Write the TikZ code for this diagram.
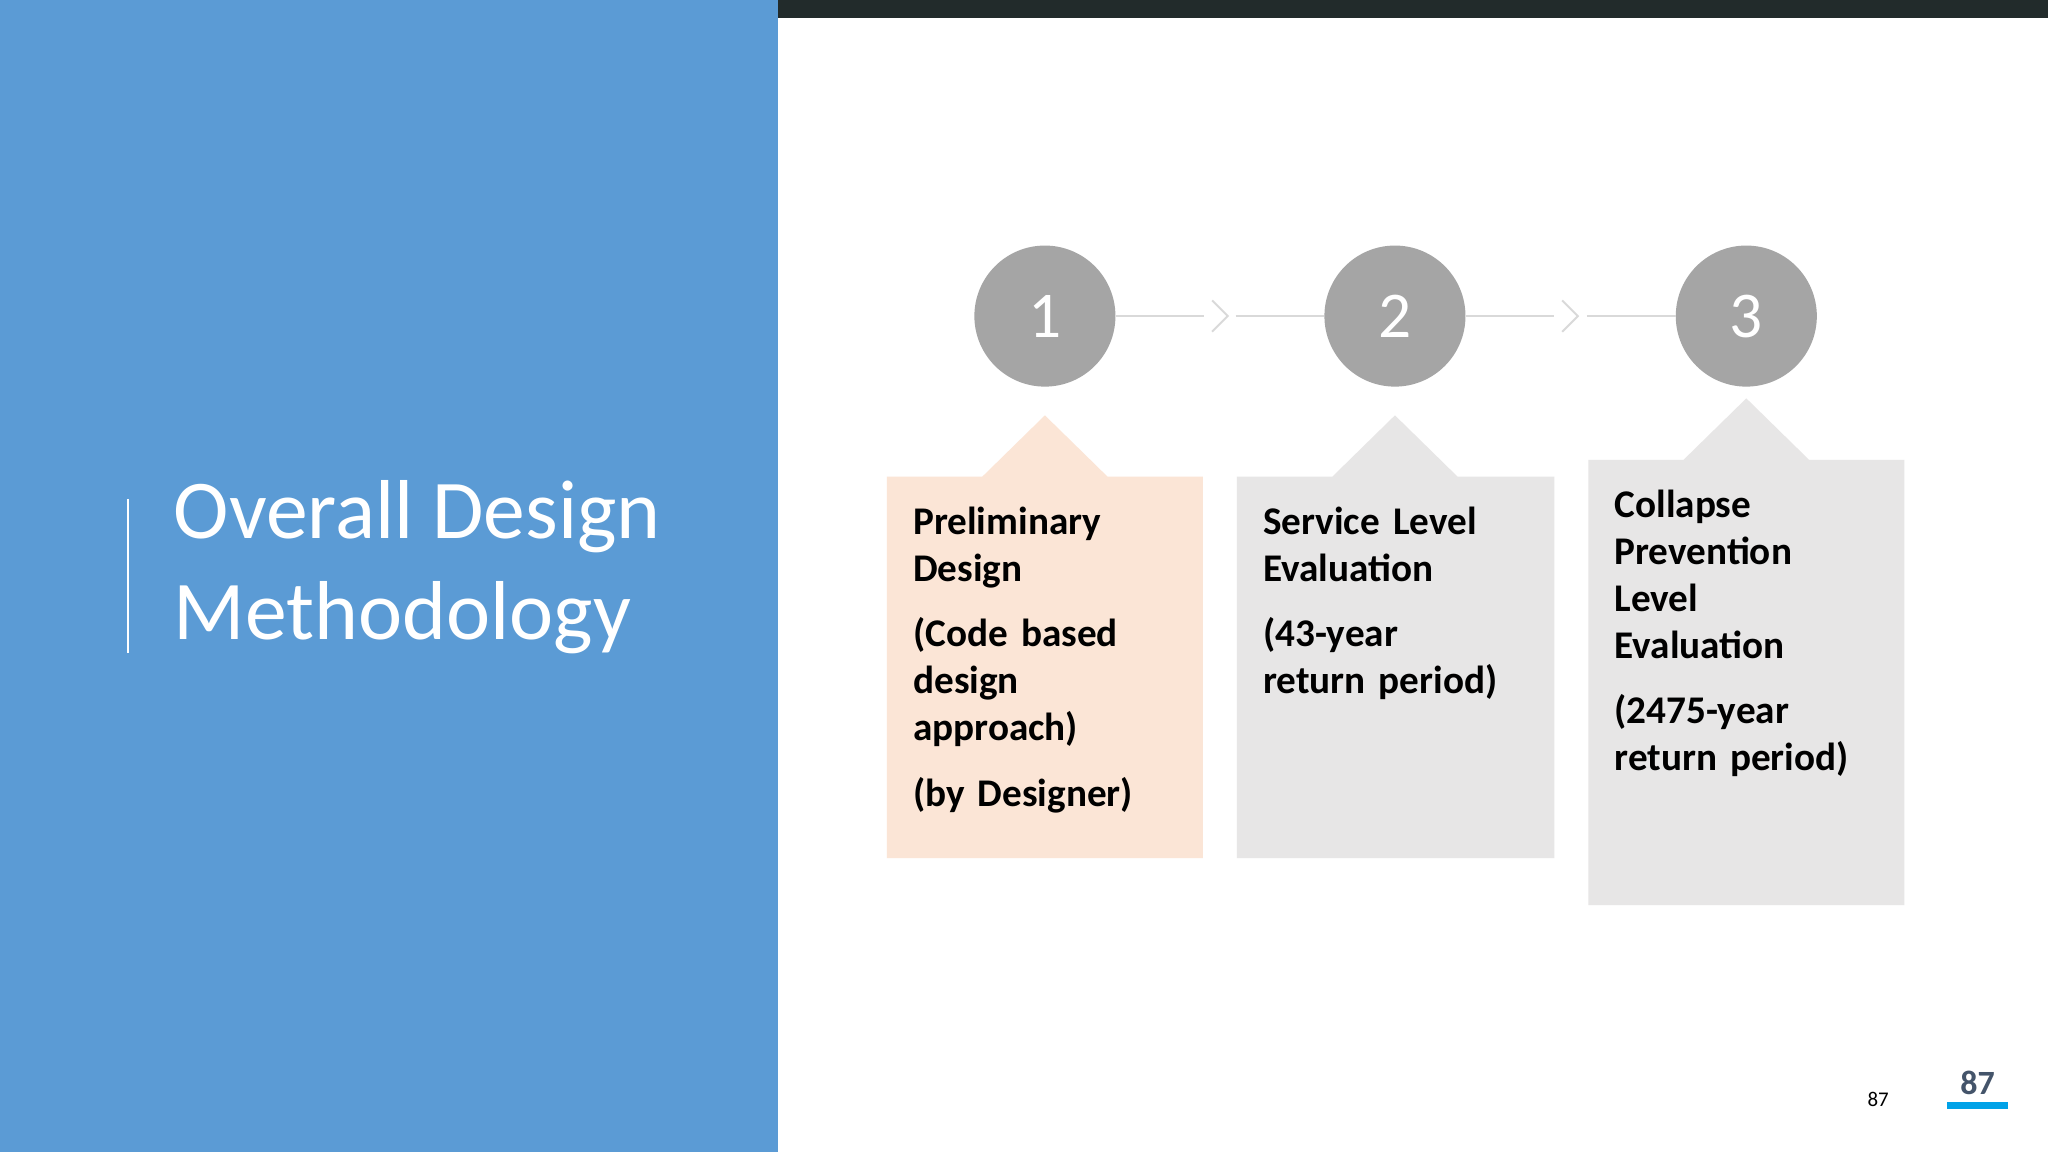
\documentclass[tikz,border=0pt]{standalone}
\usepackage{fontspec}
\setmainfont{Carlito}
\definecolor{panel}{HTML}{5B9BD5}
\definecolor{topbar}{HTML}{222B2B}
\definecolor{circ}{HTML}{A5A5A5}
\definecolor{peach}{HTML}{FBE5D6}
\definecolor{lgray}{HTML}{E7E6E6}
\definecolor{conn}{HTML}{D9D9D9}
\definecolor{pnum}{HTML}{44546A}
\definecolor{ubar}{HTML}{00A2E8}
\tikzset{
  stepcirc/.style={circle,fill=circ,minimum size=108pt,inner sep=0pt,text=white,font=\fontsize{50}{50}\selectfont},
  boxtext/.style={anchor=north west,align=left,inner sep=0pt,text width=225pt,font=\bfseries\fontsize{30}{36}\selectfont},
  connline/.style={draw=conn,line width=1.5pt},
}
\begin{document}
\begin{tikzpicture}[x=1pt,y=-1pt]
\useasboundingbox (0,0) rectangle (1568,882);
\fill[white] (0,0) rectangle (1568,882);
\fill[panel] (0,0) rectangle (596,882);
\fill[topbar] (596,0) rectangle (1568,14);
\draw[white,line width=2pt] (98,382) -- (98,500);
\node[anchor=north west,align=left,inner sep=0pt,text=white,font=\fontsize{64}{77}\selectfont] (title) at (133,368) {Overall Design\\Methodology};
% circles
\node[stepcirc] (c1) at (800,242) {1};
\node[stepcirc] (c2) at (1068,242) {2};
\node[stepcirc] (c3) at (1337,242) {3};
\coordinate (a1) at (922,242); \coordinate (b1) at (946,242);
\coordinate (a2) at (1190,242); \coordinate (b2) at (1215,242);
\draw[connline] (c1) -- (a1); \draw[connline] (b1) -- (c2);
\draw[connline] (c2) -- (a2); \draw[connline] (b2) -- (c3);
\draw[connline] (928,230) -- (940,242) -- (928,254);
\draw[connline] (1196,230) -- (1208,242) -- (1196,254);
% boxes
\fill[peach] (679,365) -- (752,365) -- (800,318) -- (848,365) -- (921,365) -- (921,657) -- (679,657) -- cycle;
\fill[lgray] (947,365) -- (1020,365) -- (1068,318) -- (1116,365) -- (1190,365) -- (1190,657) -- (947,657) -- cycle;
\fill[lgray] (1216,352) -- (1289,352) -- (1337,305) -- (1385,352) -- (1458,352) -- (1458,693) -- (1216,693) -- cycle;
\node[boxtext] (t1) at (699,388) {Preliminary\\Design\\[14pt](Code based\\design\\approach)\\[14pt](by Designer)};
\node[boxtext] (t2) at (967,388) {Service Level\\Evaluation\\[14pt](43-year\\return period)};
\node[boxtext] (t3) at (1236,375) {Collapse\\Prevention\\Level\\Evaluation\\[14pt](2475-year\\return period)};
% page numbers
\node[font=\fontsize{16}{16}\selectfont,text=black] (p1) at (1438,842) {87};
\node[font=\bfseries\fontsize{26}{26}\selectfont,text=pnum] (p2) at (1514,829) {87};
\fill[ubar] (1491,844) rectangle (1537,849);
\end{tikzpicture}
\end{document}
